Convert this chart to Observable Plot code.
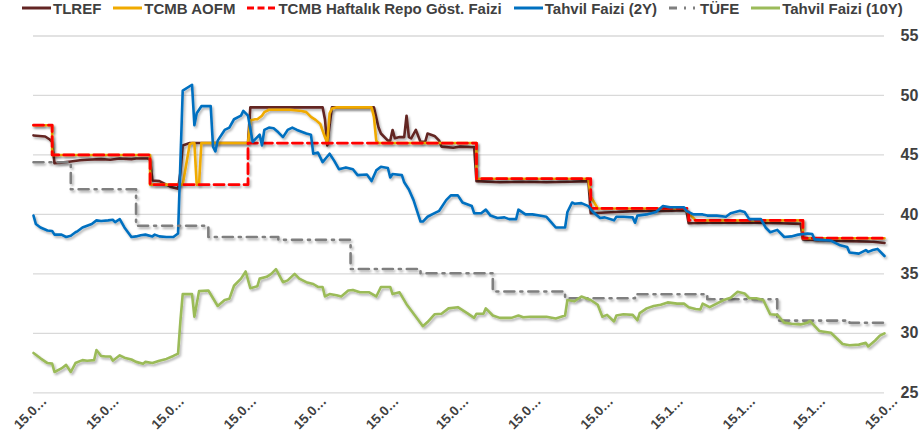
<!DOCTYPE html>
<html>
<head>
<meta charset="utf-8">
<script src="https://cdn.jsdelivr.net/npm/d3@7"></script>
<script src="https://cdn.jsdelivr.net/npm/@observablehq/plot@0.6"></script>
<style>
  html, body { margin: 0; padding: 0; background: #fff; }
  body { width: 922px; height: 438px; overflow: hidden; font-family: "Liberation Sans", Arial, sans-serif; }
  #legend { height: 16px; display: flex; align-items: center; gap: 12px; padding-left: 22px;
            font: bold 15px "Liberation Sans", Arial, sans-serif; color: #404040; white-space: nowrap; }
  #legend .item { display: flex; align-items: center; gap: 2px; }
  #legend svg { display: block; flex: none; }
</style>
</head>
<body>
<div id="legend"></div>
<div id="chart"></div>
<script>
// ---- Data ----
const seriesNames = ["TLREF", "TCMB AOFM", "TCMB Haftalık Repo Göst. Faizi", "Tahvil Faizi (2Y)", "TÜFE", "Tahvil Faizi (10Y)"];
const seriesColors = ["#632523", "#F0AA00", "#FF0000", "#0070C0", "#7F7F7F", "#9BBB59"];

const xDomain = ["2025-01-15", "2026-01-15"];
const xTicks = ["2025-01-15","2025-02-15","2025-03-15","2025-04-15","2025-05-15","2025-06-15","2025-07-15",
                "2025-08-15","2025-09-15","2025-10-15","2025-11-15","2025-12-15","2026-01-15"];
const yTicks = [25, 30, 35, 40, 45, 50, 55];

const repo = [
  ["2025-01-15",47.5],["2025-01-23",45],["2025-03-06",42.5],["2025-04-17",46],["2025-07-24",43],
  ["2025-09-11",40.5],["2025-10-23",39.5],["2025-12-11",38],["2026-01-15",38]
];

const tufe = [
  ["2025-01-15",44.38],["2025-01-31",42.12],["2025-02-28",39.05],["2025-03-31",38.10],["2025-04-30",37.86],
  ["2025-05-31",35.41],["2025-06-30",35.05],["2025-07-31",33.52],["2025-08-31",32.95],["2025-09-30",33.29],
  ["2025-10-31",32.87],["2025-11-30",31.07],["2025-12-31",30.89],["2026-01-15",30.89]
];

const tlref = [
  ["2025-01-15",46.64],["2025-01-20",46.55],["2025-01-22",46.3],["2025-01-23",46.1],["2025-01-24",44.3],
  ["2025-01-27",44.35],["2025-01-31",44.45],["2025-02-04",44.55],["2025-02-07",44.6],["2025-02-13",44.65],
  ["2025-02-17",44.6],["2025-02-21",44.7],["2025-02-26",44.65],["2025-02-28",44.7],["2025-03-05",44.7],
  ["2025-03-06",44.6],["2025-03-07",42.85],["2025-03-10",42.8],["2025-03-13",42.5],["2025-03-15",42.3],
  ["2025-03-18",42.15],["2025-03-19",43.5],["2025-03-20",45.8],["2025-03-23",46.0],["2025-04-17",46.0],
  ["2025-04-18",49.0],["2025-05-19",49.0],["2025-05-20",48.0],["2025-05-21",45.8],["2025-05-22",47.5],
  ["2025-05-23",49.0],["2025-06-10",49.0],["2025-06-12",47.3],["2025-06-13",46.8],["2025-06-16",46.2],
  ["2025-06-17",46.2],["2025-06-18",47.1],["2025-06-19",46.4],["2025-06-21",46.5],["2025-06-23",46.5],
  ["2025-06-24",48.3],["2025-06-25",46.5],["2025-06-26",46.4],["2025-06-28",47.1],["2025-06-30",46.1],
  ["2025-07-02",46.1],["2025-07-03",46.8],["2025-07-06",46.6],["2025-07-08",46.2],["2025-07-09",45.7],
  ["2025-07-14",45.6],["2025-07-17",45.7],["2025-07-23",45.65],["2025-07-24",42.8],["2025-08-03",42.7],
  ["2025-08-13",42.75],["2025-08-23",42.7],["2025-09-02",42.75],["2025-09-10",42.8],["2025-09-11",40.1],
  ["2025-09-22",40.2],["2025-10-02",40.3],["2025-10-12",40.3],["2025-10-22",40.35],["2025-10-23",39.25],
  ["2025-11-01",39.3],["2025-11-11",39.3],["2025-11-21",39.3],["2025-12-01",39.25],["2025-12-10",39.2],
  ["2025-12-11",37.9],["2025-12-21",37.8],["2025-12-31",37.75],["2026-01-10",37.7],["2026-01-15",37.6]
];

const aofm = [
  ["2025-01-15",47.5],["2025-01-23",47.5],["2025-01-23",45],["2025-03-06",45],["2025-03-06",42.5],
  ["2025-03-20",42.5],["2025-03-23",45.9],["2025-03-24",46],["2025-03-25",46],["2025-03-26",42.5],
  ["2025-03-27",42.5],["2025-03-28",46],["2025-04-17",46],["2025-04-18",47.9],["2025-04-20",48.0],
  ["2025-04-21",48.0],["2025-04-23",48.3],["2025-04-24",48.6],["2025-04-26",48.8],["2025-05-05",48.8],
  ["2025-05-10",48.7],["2025-05-12",48.6],["2025-05-14",48.2],["2025-05-16",47.95],["2025-05-18",47.6],
  ["2025-05-20",46.5],["2025-05-21",46.0],["2025-05-22",48.5],["2025-05-23",48.9],["2025-05-25",49.0],
  ["2025-06-09",49.0],["2025-06-10",48.2],["2025-06-11",46.2],["2025-06-12",46],["2025-07-24",46],
  ["2025-07-24",43],["2025-09-10",43],["2025-09-11",41.5],["2025-09-14",40.5],["2025-10-21",40.5],
  ["2025-10-26",39.5],["2025-12-11",39.5],["2025-12-11",38],["2026-01-15",38]
];

const bond2y = [
  ["2025-01-15",39.9],["2025-01-16",39.2],["2025-01-18",38.9],["2025-01-21",38.65],["2025-01-23",38.6],
  ["2025-01-24",38.3],["2025-01-27",38.3],["2025-01-29",38.1],["2025-01-31",38.2],["2025-02-02",38.5],
  ["2025-02-03",38.6],["2025-02-05",38.9],["2025-02-07",39.05],["2025-02-09",39.2],["2025-02-11",39.5],
  ["2025-02-13",39.45],["2025-02-16",39.5],["2025-02-18",39.55],["2025-02-19",39.35],["2025-02-21",39.6],
  ["2025-02-23",38.9],["2025-02-26",38.1],["2025-02-28",38.15],["2025-03-02",38.25],["2025-03-04",38.3],
  ["2025-03-07",38.15],["2025-03-08",38.3],["2025-03-10",38.15],["2025-03-13",38.1],["2025-03-16",38.1],
  ["2025-03-18",38.4],["2025-03-20",50.4],["2025-03-24",50.9],["2025-03-25",47.5],["2025-03-26",48.5],
  ["2025-03-28",49.1],["2025-04-01",49.1],["2025-04-02",45.7],["2025-04-03",45.3],["2025-04-04",46.2],
  ["2025-04-07",47.1],["2025-04-09",47.3],["2025-04-11",48.0],["2025-04-14",48.3],["2025-04-15",48.7],
  ["2025-04-17",48.3],["2025-04-18",47.2],["2025-04-19",46.1],["2025-04-22",46.7],["2025-04-23",45.8],
  ["2025-04-24",47.1],["2025-04-26",47.3],["2025-04-28",47.25],["2025-04-30",46.9],["2025-05-02",46.5],
  ["2025-05-04",47.1],["2025-05-06",47.3],["2025-05-08",47.1],["2025-05-12",46.8],["2025-05-14",46.7],
  ["2025-05-15",45.1],["2025-05-17",45.2],["2025-05-19",44.4],["2025-05-22",45.1],["2025-05-24",44.5],
  ["2025-05-26",43.8],["2025-05-29",43.95],["2025-06-01",43.8],["2025-06-03",43.3],["2025-06-07",43.35],
  ["2025-06-09",42.8],["2025-06-11",43.7],["2025-06-13",44.0],["2025-06-16",43.9],["2025-06-17",43.1],
  ["2025-06-18",43.4],["2025-06-22",43.3],["2025-06-23",42.7],["2025-06-25",42.1],["2025-06-27",41.2],
  ["2025-06-30",39.4],["2025-07-01",39.4],["2025-07-03",39.8],["2025-07-06",40.1],["2025-07-08",40.3],
  ["2025-07-11",41.2],["2025-07-13",41.6],["2025-07-16",41.6],["2025-07-18",41.0],["2025-07-22",40.7],
  ["2025-07-23",40.1],["2025-07-26",40.1],["2025-07-28",40.4],["2025-07-30",39.9],["2025-08-02",39.7],
  ["2025-08-05",39.75],["2025-08-07",39.6],["2025-08-10",39.6],["2025-08-11",40.4],["2025-08-14",40.0],
  ["2025-08-17",40.0],["2025-08-20",39.9],["2025-08-23",39.8],["2025-08-25",39.35],["2025-08-27",38.9],
  ["2025-08-31",38.9],["2025-09-01",40.2],["2025-09-03",41.0],["2025-09-04",40.9],["2025-09-07",40.95],
  ["2025-09-10",40.7],["2025-09-12",40.2],["2025-09-15",39.7],["2025-09-17",39.75],["2025-09-21",39.5],
  ["2025-09-22",39.8],["2025-09-25",39.8],["2025-09-29",39.75],["2025-09-30",39.3],["2025-10-01",39.9],
  ["2025-10-05",40.0],["2025-10-09",40.2],["2025-10-12",40.7],["2025-10-15",40.6],["2025-10-21",40.6],
  ["2025-10-22",40.3],["2025-10-25",40.0],["2025-10-29",40.0],["2025-10-31",39.9],["2025-11-04",39.9],
  ["2025-11-08",39.8],["2025-11-10",40.1],["2025-11-14",40.3],["2025-11-16",40.2],["2025-11-18",39.6],
  ["2025-11-23",39.6],["2025-11-25",38.9],["2025-11-27",38.5],["2025-11-30",38.7],["2025-12-03",38.1],
  ["2025-12-06",38.15],["2025-12-09",38.3],["2025-12-13",38.4],["2025-12-15",38.35],["2025-12-16",37.9],
  ["2025-12-23",37.8],["2025-12-27",37.4],["2025-12-30",37.25],["2025-12-31",36.8],["2026-01-04",36.7],
  ["2026-01-07",37.0],["2026-01-08",36.85],["2026-01-10",37.0],["2026-01-12",37.1],["2026-01-15",36.5]
];

const bond10y = [
  ["2025-01-15",28.35],["2025-01-18",27.9],["2025-01-21",27.5],["2025-01-23",27.45],["2025-01-24",26.75],
  ["2025-01-27",27.05],["2025-01-29",27.35],["2025-01-31",26.75],["2025-02-02",27.5],["2025-02-05",27.75],
  ["2025-02-07",27.7],["2025-02-10",27.75],["2025-02-11",28.6],["2025-02-13",28.1],["2025-02-15",28.05],
  ["2025-02-17",28.05],["2025-02-18",27.7],["2025-02-21",28.15],["2025-02-23",27.95],["2025-02-26",27.8],
  ["2025-02-28",27.6],["2025-03-03",27.45],["2025-03-04",27.6],["2025-03-07",27.5],["2025-03-10",27.7],
  ["2025-03-13",27.85],["2025-03-16",28.1],["2025-03-18",28.3],["2025-03-19",31.0],["2025-03-20",33.3],
  ["2025-03-24",33.3],["2025-03-25",31.4],["2025-03-27",33.55],["2025-03-31",33.6],["2025-04-04",32.3],
  ["2025-04-07",32.8],["2025-04-09",32.9],["2025-04-11",34.0],["2025-04-14",34.6],["2025-04-16",35.2],
  ["2025-04-18",33.8],["2025-04-21",33.95],["2025-04-22",34.6],["2025-04-25",34.75],["2025-04-27",35.0],
  ["2025-04-29",35.4],["2025-05-02",34.3],["2025-05-04",34.45],["2025-05-07",35.0],["2025-05-09",34.6],
  ["2025-05-12",34.3],["2025-05-15",34.15],["2025-05-17",33.9],["2025-05-19",33.9],["2025-05-20",33.1],
  ["2025-05-22",33.3],["2025-05-25",33.2],["2025-05-27",33.1],["2025-05-30",33.6],["2025-06-01",33.65],
  ["2025-06-04",33.45],["2025-06-08",33.45],["2025-06-11",33.1],["2025-06-13",33.9],["2025-06-17",33.9],
  ["2025-06-18",33.3],["2025-06-21",33.45],["2025-06-24",32.45],["2025-06-28",31.4],["2025-07-01",30.6],
  ["2025-07-03",30.95],["2025-07-06",31.6],["2025-07-09",31.65],["2025-07-12",32.1],["2025-07-16",32.2],
  ["2025-07-20",31.7],["2025-07-23",31.3],["2025-07-24",31.65],["2025-07-27",31.65],["2025-07-28",32.1],
  ["2025-07-31",31.5],["2025-08-03",31.3],["2025-08-08",31.3],["2025-08-11",31.5],["2025-08-13",31.35],
  ["2025-08-16",31.4],["2025-08-19",31.4],["2025-08-23",31.4],["2025-08-27",31.25],["2025-08-31",31.5],
  ["2025-09-01",32.8],["2025-09-04",32.7],["2025-09-07",33.1],["2025-09-11",32.8],["2025-09-14",32.4],
  ["2025-09-16",31.4],["2025-09-18",31.55],["2025-09-21",31.0],["2025-09-22",31.5],["2025-09-25",31.6],
  ["2025-09-29",31.55],["2025-10-01",31.1],["2025-10-02",31.7],["2025-10-05",32.1],["2025-10-08",32.3],
  ["2025-10-11",32.4],["2025-10-14",32.6],["2025-10-18",32.5],["2025-10-21",32.5],["2025-10-23",32.2],
  ["2025-10-26",32.05],["2025-10-28",32.0],["2025-10-29",32.5],["2025-11-01",32.2],["2025-11-04",32.5],
  ["2025-11-07",32.8],["2025-11-10",33.0],["2025-11-13",33.5],["2025-11-16",33.35],["2025-11-18",32.95],
  ["2025-11-21",32.95],["2025-11-24",32.8],["2025-11-27",31.6],["2025-11-30",31.55],["2025-12-03",30.9],
  ["2025-12-06",30.8],["2025-12-10",30.75],["2025-12-13",30.9],["2025-12-14",31.05],["2025-12-18",30.2],
  ["2025-12-23",30.05],["2025-12-28",29.1],["2025-12-31",29.0],["2026-01-04",29.05],["2026-01-07",29.2],
  ["2026-01-08",28.9],["2026-01-11",29.4],["2026-01-13",29.8],["2026-01-15",30.0]
];

// ---- Build ----
const rows = arr => arr.map(([d, v]) => ({date: new Date(d), v}));
const fmtDate = d3.utcFormat("%d.%m.%Y");
const shortLabel = d => fmtDate(d).slice(0, 4) + "\u2026";

const styles = [
  {stroke: seriesColors[0], strokeWidth: 2.6},
  {stroke: seriesColors[1], strokeWidth: 2.6},
  {stroke: seriesColors[2], strokeWidth: 2.8, strokeDasharray: "10,5"},
  {stroke: seriesColors[3], strokeWidth: 2.6},
  {stroke: seriesColors[4], strokeWidth: 2.6, strokeDasharray: "10,6,2,6"},
  {stroke: seriesColors[5], strokeWidth: 2.6}
];

// Legend (HTML, above the SVG)
const legend = document.getElementById("legend");
const legendDash = [null, null, "7,3.5", null, "8,7,2,7,2,7", null];
seriesNames.forEach((name, i) => {
  const item = document.createElement("div");
  item.className = "item";
  const dash = legendDash[i] ? ` stroke-dasharray="${legendDash[i]}"` : "";
  item.innerHTML = `<svg width="29" height="6"><line x1="0" y1="3" x2="29" y2="3" stroke="${seriesColors[i]}" stroke-width="3"${dash}/></svg><span>${name}</span>`;
  legend.appendChild(item);
});

const lineOpts = (i, curve) => ({x: "date", y: "v", curve, strokeLinejoin: "round", ...styles[i]});

const chart = Plot.plot({
  width: 922,
  height: 422,
  marginLeft: 33,
  marginRight: 38,
  marginTop: 19.5,
  marginBottom: 45.7,
  style: {fontFamily: "'Liberation Sans', Arial, sans-serif", color: "#404040", background: "#fff", overflow: "visible"},
  x: {type: "utc", domain: xDomain.map(d => new Date(d)), label: null},
  y: {domain: [25, 55], label: null},
  marks: [
    Plot.gridY(yTicks, {stroke: "#d9d9d9", strokeOpacity: 1, strokeWidth: 1.3}),
    Plot.axisY(yTicks, {anchor: "right", tickSize: 0, tickPadding: 16, fontSize: 16, fontWeight: "bold", fill: "#404040", label: null}),
    Plot.axisX(xTicks.map(d => new Date(d)), {tickSize: 0, tickPadding: 3, tickRotate: -45, tickFormat: shortLabel,
      fontSize: 13.5, fontWeight: "bold", fill: "#404040", dx: 11, dy: 3, label: null}),
    Plot.line(rows(tlref), lineOpts(0, "linear")),
    Plot.line(rows(aofm), lineOpts(1, "linear")),
    Plot.line(rows(repo), lineOpts(2, "step-after")),
    Plot.line(rows(bond2y), lineOpts(3, "linear")),
    Plot.line(rows(tufe), lineOpts(4, "step-after")),
    Plot.line(rows(bond10y), lineOpts(5, "linear"))
  ]
});

// soft drop shadow under the series lines, like the original
chart.insertAdjacentHTML("afterbegin",
  `<defs><filter id="lineShadow" filterUnits="userSpaceOnUse" x="0" y="0" width="922" height="422">
     <feDropShadow dx="1.5" dy="2" stdDeviation="1.2" flood-color="#000" flood-opacity="0.3"/>
   </filter></defs>`);
chart.querySelectorAll('g[aria-label="line"]').forEach(g => g.setAttribute("filter", "url(#lineShadow)"));

document.getElementById("chart").appendChild(chart);
</script>
</body>
</html>
